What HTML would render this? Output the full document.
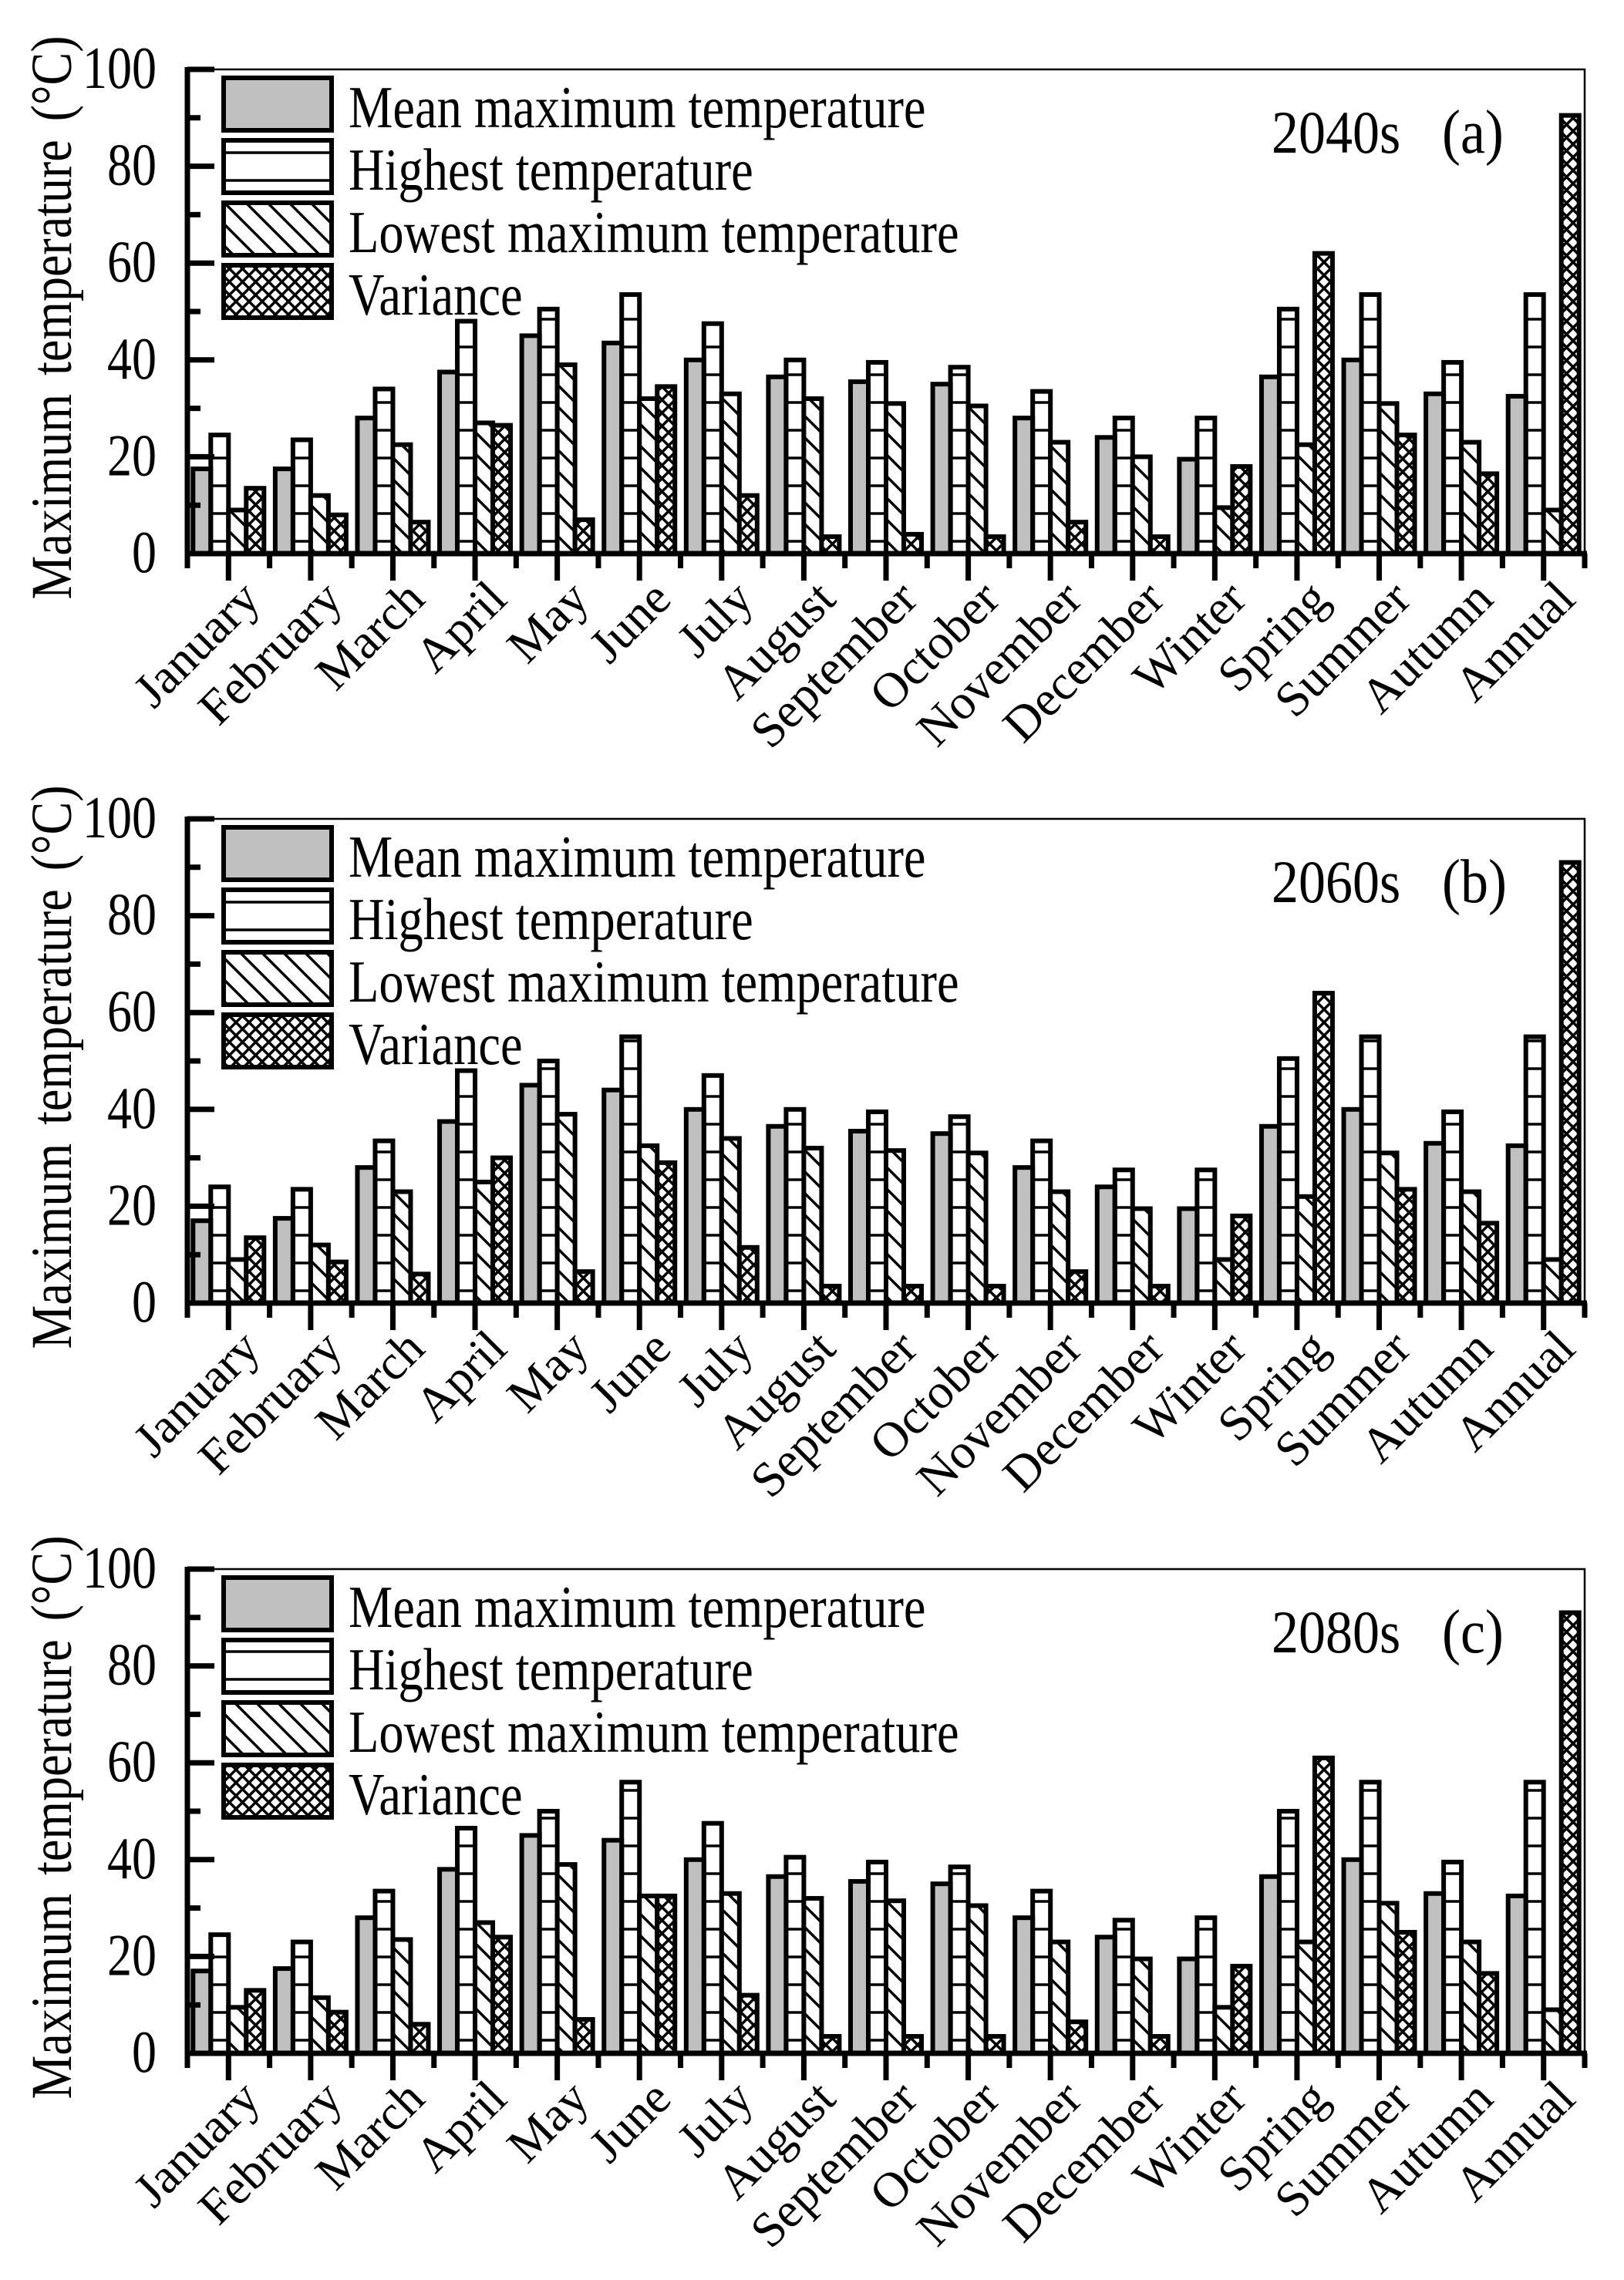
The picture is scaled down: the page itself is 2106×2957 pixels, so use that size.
<!DOCTYPE html>
<html><head><meta charset="utf-8"><style>
html,body{margin:0;padding:0;background:#fff}
svg{display:block}
text{font-family:"Liberation Serif",serif;fill:#000}
</style></head><body>
<svg id="chart" xmlns="http://www.w3.org/2000/svg" width="2106" height="2957" viewBox="0 0 2106 2957">
<defs>
<pattern id="pH" patternUnits="userSpaceOnUse" width="40" height="36"><line x1="0" y1="18" x2="40" y2="18" stroke="#000" stroke-width="3.5"/></pattern>
<pattern id="pD" patternUnits="userSpaceOnUse" width="28" height="28"><rect width="28" height="28" fill="#fff"/><path d="M-7,-7 L35,35 M-7,21 L7,35 M21,-7 L35,7" stroke="#000" stroke-width="3.5"/></pattern>
<pattern id="pX" patternUnits="userSpaceOnUse" width="17" height="17"><rect width="17" height="17" fill="#fff"/><path d="M-4,-4 L21,21 M-4,21 L21,-4" stroke="#000" stroke-width="3.5"/></pattern>
</defs>
</svg>
<script>
const categories = ["January","February","March","April","May","June","July","August","September","October","November","December","Winter","Spring","Summer","Autumn","Annual"];
const yTicks = [0,20,40,60,80,100];
const seriesNames = ["Mean maximum temperature","Highest temperature","Lowest maximum temperature","Variance"];
const panelYears = ["2040s","2060s","2080s"];
const panelLetters = ["(a)","(b)","(c)"];
// 2040s
const meanA = [17.5,17.5,28,37.5,45,43.5,40,36.5,35.5,35,28,24,19.5,36.5,40,33,32.5];
const highA = [24.5,23.5,34,48,50.5,53.5,47.5,40,39.5,38.5,33.5,28,28,50.5,53.5,39.5,53.5];
const lowA  = [9,12,22.5,27,39,32,33,32,31,30.5,23,20,9.5,22.5,31,23,9];
const varA  = [13.5,8,6.5,26.5,7,34.5,12,3.5,4,3.5,6.5,3.5,18,62,24.5,16.5,90.5];
// 2060s
const meanB = [17,17.5,28,37.5,45,44,40,36.5,35.5,35,28,24,19.5,36.5,40,33,32.5];
const highB = [24,23.5,33.5,48,50,55,47,40,39.5,38.5,33.5,27.5,27.5,50.5,55,39.5,55];
const lowB  = [9,12,23,25,39,32.5,34,32,31.5,31,23,19.5,9,22,31,23,9];
const varB  = [13.5,8.5,6,30,6.5,29,11.5,3.5,3.5,3.5,6.5,3.5,18,64,23.5,16.5,91];
// 2080s
const meanC = [17,17.5,28,38,45,44,40,36.5,35.5,35,28,24,19.5,36.5,40,33,32.5];
const highC = [24.5,23,33.5,46.5,50,56,47.5,40.5,39.5,38.5,33.5,27.5,28,50,56,39.5,56];
const lowC  = [9.5,11.5,23.5,27,39,32.5,33,32,31.5,30.5,23,19.5,9.5,23,31,23,9];
const varC  = [13,8.5,6,24,7,32.5,12,3.5,3.5,3.5,6.5,3.5,18,61,25,16.5,91];

const NS = "http://www.w3.org/2000/svg";
const svg = document.getElementById("chart");
function mk(tag, attrs, parent){const e=document.createElementNS(NS,tag);for(const k in attrs)e.setAttribute(k,attrs[k]);(parent||svg).appendChild(e);return e;}

const panels = [
  {top:90, data:[meanA,highA,lowA,varA]},
  {top:1062, data:[meanB,highB,lowB,varB]},
  {top:2035, data:[meanC,highC,lowC,varC]}
];
const L=243, R=2055, H=628;
const fills=["#c0c0c0","url(#pH)","url(#pD)","url(#pX)"];
const serKeys=["mean","highest","lowest","variance"];
const bw=23;

panels.forEach((p,pi)=>{
  const g=mk("g",{});
  
  
  const zero=p.top+H;
  const y=v=>zero-v/100*H;
  const step=(R-L)/categories.length;
  const cx=i=>L+step*(i+0.5);
  p.data.forEach((arr,s)=>{
    arr.forEach((v,i)=>{
      const x=cx(i)-2*bw+s*bw;
      const r=mk("rect",{x:x,y:y(v),width:bw,height:zero-y(v),fill:fills[s],stroke:"#000","stroke-width":6},g);
      
      
    });
  });
  const fr=mk("path",{d:`M${L},${p.top} H${R} V${zero}`,fill:"none",stroke:"#000","stroke-width":2.5},g);
  
  
  const ya=mk("line",{x1:L,y1:p.top-3,x2:L,y2:zero+3,stroke:"#000","stroke-width":7},g);
  
  
  const xa=mk("line",{x1:L-3,y1:zero,x2:R+3,y2:zero,stroke:"#000","stroke-width":7},g);
  
  
  for(let v=0;v<=100;v+=10){
    const major=v%20===0;
    mk("line",{x1:L,y1:y(v),x2:L+(major?35:17),y2:y(v),stroke:"#000","stroke-width":7},g);
  }
  yTicks.forEach(v=>{
    const t=mk("text",{transform:`translate(203,${y(v)+24}) scale(1,1.2)`,"font-size":64,"text-anchor":"end"},g);
    t.textContent=v;
    
    
  });
  for(let i=0;i<=categories.length;i++){
    mk("line",{x1:L+step*i,y1:zero,x2:L+step*i,y2:zero+19,stroke:"#000","stroke-width":7},g);
  }
  categories.forEach((c,i)=>{
    mk("line",{x1:cx(i),y1:zero,x2:cx(i),y2:zero+35,stroke:"#000","stroke-width":7},g);
    const bx=cx(i)+44, by=zero+62;
    const t=mk("text",{transform:`translate(${bx},${by}) rotate(-45)`,"font-size":64,"text-anchor":"end"},g);
    t.textContent=c;
    
    
  });
  const yt=mk("text",{transform:`translate(92,${p.top+322}) rotate(-90) scale(1,1.18)`,"font-size":64,"text-anchor":"middle","word-spacing":"8"},g);
  yt.textContent="Maximum  temperature (°C)";
  
  
  seriesNames.forEach((n,s)=>{
    const ty=p.top+8+s*81;
    const lg=mk("g",{},g);
    
    
    mk("rect",{x:290,y:ty+3,width:140,height:68,fill:"#fff",stroke:"none"},lg);
    mk("rect",{x:290,y:ty+3,width:140,height:68,fill:fills[s],stroke:"#000","stroke-width":6},lg);
    const t=mk("text",{transform:`translate(452,${ty+67}) scale(1,1.2)`,"font-size":64.5},lg);
    t.textContent=n;
  });
  const pl=mk("text",{transform:`translate(1649,${p.top+108}) scale(1,1.12)`,"font-size":70},g);
  pl.textContent=panelYears[pi];
  
  
  const pl2=mk("text",{transform:`translate(1870,${p.top+108}) scale(1,1.12)`,"font-size":72},g);
  pl2.textContent=panelLetters[pi];
  
  
});
</script>
</body></html>
